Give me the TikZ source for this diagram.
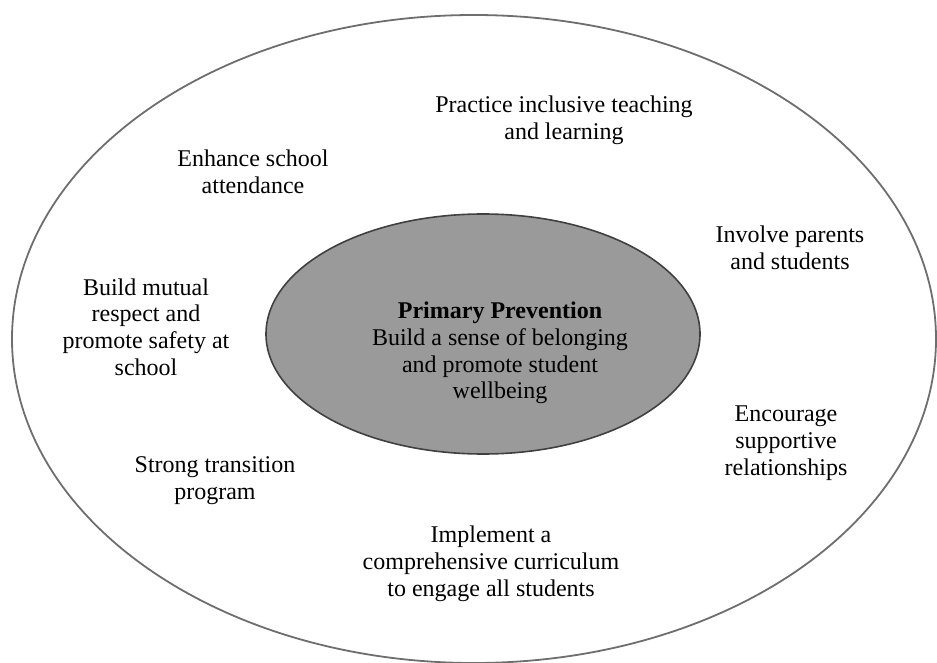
\documentclass[tikz,border=0pt]{standalone}
\usepackage{fontspec}
\setmainfont{Liberation Serif}
\usetikzlibrary{shapes.geometric}
\usetikzlibrary{positioning}
\definecolor{hubgray}{HTML}{9A9A9A}
\definecolor{rimgray}{HTML}{6E6E6E}
\begin{document}
\begin{tikzpicture}[x=0.5pt,y=-0.5pt]
			\tikzset{ring/.style = {shape=ellipse, draw=rimgray, line width=0.9pt, inner sep=0pt, minimum width=462pt, minimum height=324pt}}
			\tikzset{hub/.style = {shape=ellipse, draw=black!75, fill=hubgray, line width=0.8pt, inner sep=0pt, minimum width=217pt, minimum height=120pt}}
			\tikzset{item/.style = {align=center, inner sep=0pt, font=\fontsize{12}{13.4}\selectfont}}
			\useasboundingbox (0,0) rectangle (937,663);
			\clip (0,0) rectangle (937,663);
			
			\node[ring] (RING) at (474,339) {};
			\node[hub] (CORE) at (483,334) {};
			\node[item] (COREtext) at (500,353)
			{\textbf{Primary Prevention}\\Build a sense of belonging\\and promote student\\wellbeing};
			
			\node[item] (TEACH) at (564,120) {Practice inclusive teaching\\and learning};
			\node[item] (ATTEND) at (253,172) {Enhance school\\attendance};
			\node[item] (PARENTS) at (790,248) {Involve parents\\and students};
			\node[item] (RESPECT) at (146,327) {Build mutual\\respect and\\promote safety at\\school};
			\node[item] (SUPPORT) at (786,443) {Encourage\\supportive\\relationships};
			\node[item] (TRANSIT) at (215,481) {Strong transition\\program};
			\node[item] (CURRIC) at (491,564) {Implement a\\comprehensive curriculum\\to engage all students};
			
			\end{tikzpicture}
\end{document}
